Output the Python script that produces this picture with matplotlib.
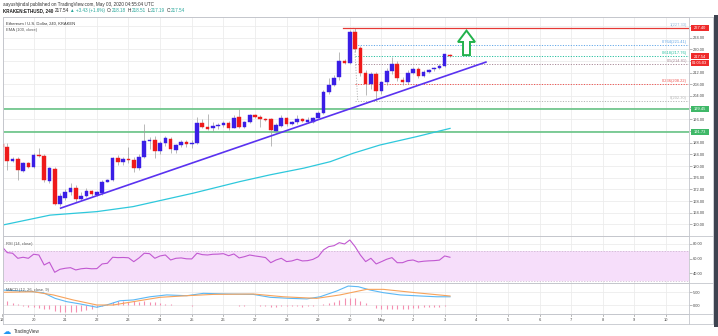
import matplotlib
matplotlib.use("Agg")
import matplotlib.pyplot as plt
from matplotlib.patches import Rectangle, Polygon
from matplotlib.lines import Line2D
from matplotlib.transforms import blended_transform_factory as blend

plt.rcParams["font.family"] = ["Liberation Sans", "DejaVu Sans"]

# ---------------- data: ETH/USD 4h candles, 19 Apr 00:00 -> 3 May 04:00 ----------------
opens = [187.6, 186.6, 181.8, 182.4, 178.4, 181.0, 179.6, 183.8, 183.6, 175.0,
         179.0, 167.0, 169.0, 171.2, 172.6, 168.8, 169.9, 171.5, 170.2, 170.7,
         174.7, 175.2, 182.7, 181.5, 182.4, 182.2, 179.4, 183.2, 188.7, 188.9,
         185.2, 188.0, 189.2, 185.5, 187.2, 188.3, 187.5, 187.8, 194.7, 193.5,
         192.9, 193.6, 194.0, 194.7, 193.0, 196.9, 193.5, 195.0, 197.5, 196.9,
         196.1, 196.0, 192.1, 193.7, 196.4, 194.4, 195.2, 196.2, 195.2, 195.2,
         196.6, 198.1, 205.5, 207.8, 210.4, 216.1, 215.4, 226.0, 220.3, 211.8,
         208.1, 211.5, 205.8, 208.7, 212.7, 215.0, 209.5, 208.7, 212.0, 213.2,
         211.0, 212.3, 213.1, 213.7, 214.3, 218.18]
highs = [188.4, 187.9, 183.2, 183.2, 181.3, 181.4, 184.4, 186.1, 184.2, 179.8,
         179.6, 170.7, 172.0, 174.1, 173.5, 171.2, 172.4, 171.8, 171.5, 175.2,
         175.7, 183.2, 183.8, 183.0, 186.6, 183.0, 184.0, 194.3, 190.0, 190.4,
         188.6, 190.4, 190.1, 187.7, 188.9, 188.9, 188.9, 196.9, 196.0, 197.8,
         195.1, 194.8, 195.3, 195.4, 197.5, 199.4, 195.3, 198.0, 197.9, 197.6,
         196.5, 196.5, 194.6, 197.5, 196.9, 195.6, 197.6, 196.6, 196.8, 196.9,
         198.7, 206.0, 210.0, 211.2, 219.2, 216.6, 226.6, 227.4, 221.0, 213.0,
         212.3, 212.3, 209.3, 213.5, 217.5, 215.9, 210.5, 213.0, 214.0, 214.0,
         213.0, 213.4, 214.0, 214.8, 218.5, 218.51]
lows = [186.4, 178.7, 181.4, 175.2, 178.1, 179.3, 179.2, 183.2, 174.7, 174.1,
        166.7, 166.4, 168.4, 170.1, 167.8, 168.4, 169.5, 169.8, 169.8, 170.2,
        174.4, 175.0, 180.4, 180.5, 181.0, 178.0, 178.8, 182.7, 186.0, 182.6,
        184.0, 187.0, 184.4, 184.5, 186.6, 186.7, 186.3, 187.6, 192.9, 192.5,
        192.0, 192.8, 193.4, 192.5, 192.9, 193.0, 193.0, 194.7, 196.5, 193.3,
        195.3, 187.0, 191.8, 193.3, 193.7, 194.0, 194.3, 195.0, 194.8, 194.8,
        196.3, 197.8, 204.8, 207.4, 209.5, 215.0, 215.0, 219.0, 210.8, 204.5,
        206.5, 202.3, 204.8, 207.9, 211.5, 209.0, 207.8, 208.0, 211.4, 210.0,
        210.6, 211.8, 212.7, 213.3, 213.9, 217.19]
closes = [186.7, 181.8, 182.4, 178.7, 181.0, 179.6, 183.8, 183.6, 175.2, 179.2,
          166.9, 169.9, 171.2, 172.4, 168.6, 169.8, 171.5, 170.3, 171.0, 174.7,
          175.2, 182.7, 181.5, 182.4, 182.0, 179.2, 183.2, 188.7, 189.0, 185.0,
          188.0, 189.5, 185.7, 187.2, 188.3, 187.5, 188.0, 194.7, 193.3, 192.8,
          193.6, 194.0, 194.6, 193.0, 196.6, 193.5, 195.0, 197.5, 196.9, 196.1,
          195.8, 192.4, 194.1, 196.4, 194.4, 195.2, 196.1, 195.3, 195.8, 196.4,
          198.1, 205.5, 207.8, 210.1, 216.1, 215.4, 226.0, 220.0, 211.8, 208.1,
          211.5, 205.8, 208.7, 212.7, 215.0, 210.1, 208.7, 212.0, 213.2, 211.0,
          212.3, 213.0, 213.7, 214.3, 218.3, 217.54]

# EMA(100) read at a few times (days after 19 Apr 00:00)
ema_t = [0.02, 1.52, 3.0, 4.14, 6.04, 7.53, 8.48, 9.55, 10.38, 11.11, 11.95, 13.12, 14.17]
ema_v = [159.8, 163.2, 164.4, 166.1, 170.7, 174.7, 177.0, 179.3, 181.5, 184.4, 187.2, 190.1, 192.9]

# RSI(14), one value per candle
rsi = [76.4, 68.2, 67.4, 60.5, 61.9, 60.5, 66.0, 65.0, 51.4, 55.1,
       41.4, 45.5, 46.9, 47.7, 44.6, 46.2, 46.9, 46.2, 46.4, 52.8,
       53.7, 61.9, 61.4, 61.6, 61.2, 55.9, 61.0, 67.4, 66.8, 60.5,
       63.7, 65.0, 58.2, 60.5, 61.0, 59.8, 59.6, 67.4, 65.5, 65.0,
       66.0, 66.2, 66.8, 64.0, 66.4, 61.0, 62.7, 65.0, 63.7, 62.7,
       61.5, 54.5, 58.2, 60.5, 56.0, 56.9, 59.2, 56.9, 57.3, 59.0,
       62.7, 71.9, 76.4, 77.7, 81.8, 80.0, 85.5, 76.4, 65.0, 56.0,
       60.5, 52.8, 55.9, 59.2, 61.4, 54.5, 54.5, 57.3, 58.2, 55.5,
       56.5, 57.0, 57.3, 58.0, 63.7, 61.9]

# MACD(12, 26, 9)
macd_t = [0.02, 0.57, 0.99, 1.31, 1.68, 2.05, 2.47, 3.0, 3.31, 3.73, 4.15, 4.68, 5.21, 5.84, 6.37,
          7.11, 7.95, 8.48, 9.11, 9.64, 10.06, 10.59, 10.95, 11.27, 11.64, 12.06, 12.59, 13.22, 13.75, 14.17]
macd_v = [5.75, 5.4, 5.1, 4.7, 2.6, 1.35, 0.5, -0.75, 0.1, 1.7, 2.0, 3.2, 3.9, 3.6, 4.5,
          4.25, 4.1, 3.0, 2.6, 2.4, 3.2, 5.4, 7.25, 7.0, 5.75, 4.75, 3.9, 3.5, 3.2, 3.2]
signal_t = [0.02, 0.99, 1.62, 2.25, 3.0, 3.52, 4.15, 5.0, 5.84, 6.68, 7.95, 8.9, 9.95, 10.69,
            11.53, 12.06, 13.07, 14.17]
signal_v = [4.9, 5.1, 3.9, 2.0, 0.1, 0.1, 1.35, 3.0, 3.6, 4.1, 4.25, 3.2, 2.6, 3.9,
            6.0, 6.0, 4.75, 3.5]
hist = [1.9, 1.6, 1.0, 0.5, -0.2, -0.75, -0.75, -0.9, -1.25, -1.5,
        -2.1, -2.5, -2.5, -2.5, -2.4, -2.1, -1.75, -1.25, -0.75, -0.25,
        0.5, 1.4, 1.6, 1.6, 1.4, 1.6, 1.4, 1.6, 1.4, 1.25,
        0.75, 0.5, 0.5, 0.25, 0.1, 0.05, -0.1, 0.1, 0.15, 0.1,
        0.1, 0.05, 0.1, -0.05, 0.05, -0.1, -0.1, 0.05, 0.0, -0.1,
        -0.3, -0.5, -0.5, -0.3, -0.3, -0.4, -0.4, -0.5, -0.4, -0.3,
        0.1, 0.5, 0.75, 1.4, 2.0, 2.6, 2.9, 2.6, 1.75, 0.75,
        0.0, -0.9, -1.4, -1.5, -1.4, -1.4, -1.25, -1.25, -1.1, -0.9,
        -0.75, -0.75, -0.75, -0.6, -0.4, 0.0]

day_labels = ["19", "20", "21", "22", "23", "24", "25", "26", "27", "28", "29", "30",
              "May", "2", "3", "4", "5", "6", "7", "8", "9", "10"]

# drawings
support_levels = [199.45, 191.73]
resistance_level = 227.40
resistance_start = 10.78
trend_t = [1.83, 15.33]
trend_p = [165.5, 215.7]
fib_ratios = ["1", "0.764", "0.618", "0.5", "0.236", "0"]
fib_prices = [227.33, 221.41, 217.76, 214.81, 208.22, 202.30]
fib_colors = ["#8fb4d8", "#64a8e8", "#26c0a0", "#a88a98", "#ef5350", "#b5b5b5"]
fib_start = 11.17
arrow_t, arrow_bottom, arrow_top = 14.69, 218.0, 226.4
last_price = 217.54
countdown = "01:05:03"

# ---------------- figure layout (pixel based) ----------------
W, H = 718, 336
fig = plt.figure(figsize=(W / 100, H / 100), dpi=100)
fig.patch.set_facecolor("white")


def rect(l, t, r, b):
    return [l / W, 1 - b / H, (r - l) / W, (b - t) / H]


def px(x, y):
    return x / W, 1 - y / H


L, R = 3, 689
ax = fig.add_axes(rect(L, 17, R, 236))
ax_rsi = fig.add_axes(rect(L, 236, R, 283))
ax_macd = fig.add_axes(rect(L, 283, R, 314))

XMIN, XMAX = 0.0316, 21.727
GRID = "#ececec"
SPINE = "#c4c6cc"
TXT = "#4a4a4a"
FS = 2.9

for a in (ax, ax_rsi, ax_macd):
    a.set_xlim(XMIN, XMAX)
    a.set_xticks([])
    for s in a.spines.values():
        s.set_color(SPINE)
        s.set_linewidth(0.6)
    a.yaxis.tick_right()
    a.tick_params(axis="y", length=2, width=0.5, color="#9a9a9a", pad=1.0,
                  labelsize=FS, labelcolor=TXT)
    for d in range(len(day_labels)):
        a.axvline(d, color=GRID, lw=0.6, zorder=0)

# ---------------- main price pane ----------------
ax.set_ylim(156.05, 231.05)
ticks = list(range(160, 229, 4))
hidden = {200, 192, 216, 228}
ax.set_yticks(ticks)
ax.set_yticklabels(["" if v in hidden else f"{v:.2f}" for v in ticks])
for v in ticks:
    ax.axhline(v, color=GRID, lw=0.6, zorder=0)

t = [k / 6 for k in range(len(opens))]
UP, DN = "#3a1ee6", "#ee1a1a"
cols = [UP if c >= o else DN for o, c in zip(opens, closes)]
ax.vlines(t, lows, highs, color="#9c9c9c", lw=0.5, zorder=2)
bottoms = [min(o, c) for o, c in zip(opens, closes)]
heights = [max(abs(c - o), 0.3) for o, c in zip(opens, closes)]
ax.bar(t, heights, bottom=bottoms, width=0.115, color=cols, edgecolor=cols,
       linewidth=0.3, zorder=3)

ax.plot(ema_t, ema_v, color="#2ec8dc", lw=0.9, zorder=2)

for lv in support_levels:
    ax.axhline(lv, color="#5cbf7c", lw=1.3, alpha=0.85, zorder=1.5)

ax.plot(trend_t, trend_p, color="#5a32f0", lw=1.2, zorder=4, solid_capstyle="butt")

for ratio, p, c in zip(fib_ratios, fib_prices, fib_colors):
    ax.plot([fib_start, XMAX], [p, p], color=c, lw=0.7, ls=(0, (1.2, 1.5)), zorder=1.6)
    ax.text(21.66, p + 0.35, f"{ratio}({p:.2f})", color=c, fontsize=FS,
            ha="right", va="bottom", zorder=5)
ax.plot([fib_start - 0.05, fib_start + 0.08], [fib_prices[0], fib_prices[-1]],
        color="#b5b5b5", lw=0.7, ls=(0, (1.2, 1.5)), zorder=1.6)

ax.plot([resistance_start, XMAX], [resistance_level] * 2, color="#e53935", lw=0.9, zorder=4)

hw, sw = 0.27, 0.11
head_base = arrow_top - 3.9
arrow = Polygon([(arrow_t, arrow_top), (arrow_t + hw, head_base), (arrow_t + sw, head_base),
                 (arrow_t + sw, arrow_bottom), (arrow_t - sw, arrow_bottom),
                 (arrow_t - sw, head_base), (arrow_t - hw, head_base)],
                closed=True, facecolor="white", edgecolor="#22b24c", lw=1.4, zorder=6)
ax.add_patch(arrow)

# ---------------- RSI pane ----------------
ax_rsi.set_ylim(26.8, 90.9)
ax_rsi.set_yticks([80, 60, 40])
ax_rsi.set_yticklabels(["80.00", "60.00", "40.00"])
for v in (80, 60, 40):
    ax_rsi.axhline(v, color=GRID, lw=0.6, zorder=0)
ax_rsi.axhspan(30, 70, color="#f6defa", zorder=0.5, lw=0)
for v in (70, 30):
    ax_rsi.axhline(v, color="#c9b3cc", lw=0.5, ls=(0, (2, 2)), zorder=0.6)
ax_rsi.plot(t, rsi, color="#c158d1", lw=0.8, zorder=3)

# ---------------- MACD pane ----------------
ax_macd.set_ylim(-3.3, 8.4)
ax_macd.set_yticks([5, 0])
ax_macd.set_yticklabels(["5.00", "0.00"])
for v in (5, 0):
    ax_macd.axhline(v, color=GRID, lw=0.6, zorder=0)
ax_macd.vlines(t, 0, hist, color="#f48fb1", lw=0.8, zorder=2)
ax_macd.plot(macd_t, macd_v, color="#5bb8f5", lw=0.8, zorder=3)
ax_macd.plot(signal_t, signal_v, color="#f7a35c", lw=0.8, zorder=3)

tr = blend(ax_macd.transData, ax_macd.transAxes)
for d, lab in enumerate(day_labels):
    ax_macd.text(d, -0.18, lab, transform=tr, fontsize=FS, color=TXT,
                 ha="center", va="center", clip_on=False)
    ax_macd.plot([d, d], [0, -0.06], transform=tr, color="#9a9a9a", lw=0.5, clip_on=False)

# ---------------- frame lines ----------------
def hline(y, x0, x1, c=SPINE, lw=0.6):
    fig.add_artist(Line2D([x0 / W, x1 / W], [1 - y / H] * 2, color=c, lw=lw))


def vline(x, y0, y1, c=SPINE, lw=0.6):
    fig.add_artist(Line2D([x / W] * 2, [1 - y0 / H, 1 - y1 / H], color=c, lw=lw))


for y in (17, 236, 283, 314, 324):
    hline(y, L, 713)
vline(L, 17, 324)
vline(R, 314, 324)
vline(713, 17, 324)
fig.add_artist(Rectangle((714 / W, 1 - 327 / H), 4 / W, 312 / H, transform=fig.transFigure,
                         facecolor="#3d4350", edgecolor="none"))


# ---------------- price axis boxes ----------------
def price_box(y_pix, text, color):
    fig.add_artist(Rectangle(((R + 2) / W, 1 - (y_pix + 3) / H), 18 / W, 6 / H,
                             transform=fig.transFigure, facecolor=color, edgecolor="none",
                             zorder=10))
    fig.text(*px(R + 11, y_pix + 0.2), text, fontsize=FS, color="white", ha="center",
             va="center", zorder=11)


def y_of(p):
    return 17 + (231.05 - p) / (231.05 - 156.05) * 219


price_box(y_of(resistance_level), f"{resistance_level:.2f}", "#ef2b2b")
price_box(y_of(last_price), f"{last_price:.2f}", "#ef2b2b")
price_box(y_of(last_price) + 6.5, countdown, "#ef2b2b")
for lv in support_levels:
    price_box(y_of(lv), f"{lv:.2f}", "#3fb868")

# ---------------- texts ----------------
HS = 3.3
fig.text(*px(3, 4.5), "aayushjindal published on TradingView.com, May 03, 2020 04:55:04 UTC",
         fontsize=HS, color="#333333", ha="left", va="center")

TEAL = "#26a69a"
DARK = "#222222"
segments = [("KRAKEN:ETHUSD, 240", DARK, "bold"), ("217.54", DARK, "normal"),
            ("▲ +3.43 (+1.6%)", TEAL, "normal"), ("O:", DARK, "normal"),
            ("218.18", TEAL, "normal"), ("H:", DARK, "normal"), ("218.51", TEAL, "normal"),
            ("L:", DARK, "normal"), ("217.19", TEAL, "normal"), ("C:", DARK, "normal"),
            ("217.54", TEAL, "normal")]
gaps = [1.4, 1.4, 1.4, 0.0, 1.4, 0.0, 1.4, 0.0, 1.4, 0.0, 0.0]
renderer = fig.canvas.get_renderer()
x = 3.0
for (s, c, w), g in zip(segments, gaps):
    tx = fig.text(*px(x, 10.8), s, fontsize=HS, color=c, fontweight=w, ha="left", va="center")
    bb = tx.get_window_extent(renderer)
    x += bb.width + g

fig.text(*px(6.5, 23.5), "Ethereum / U.S. Dollar, 240, KRAKEN", fontsize=3.0, color="#333333",
         ha="left", va="center")
fig.text(*px(6.5, 29.5), "EMA (100, close)", fontsize=3.0, color="#555555", ha="left", va="center")
fig.text(*px(6.0, 244), "RSI (14, close)", fontsize=FS, color="#555555", ha="left", va="center")
fig.text(*px(6.0, 290.5), "MACD (12, 26, close, 9)", fontsize=FS, color="#555555",
         ha="left", va="center")

fig.text(*px(3, 331.5), "☁", fontsize=6, color="#2196f3", ha="left", va="center",
         family=["DejaVu Sans"])
fig.text(*px(13.5, 331.5), "TradingView", fontsize=3.3, color="#333333", ha="left", va="center")

fig.savefig("out.png", dpi=100)
